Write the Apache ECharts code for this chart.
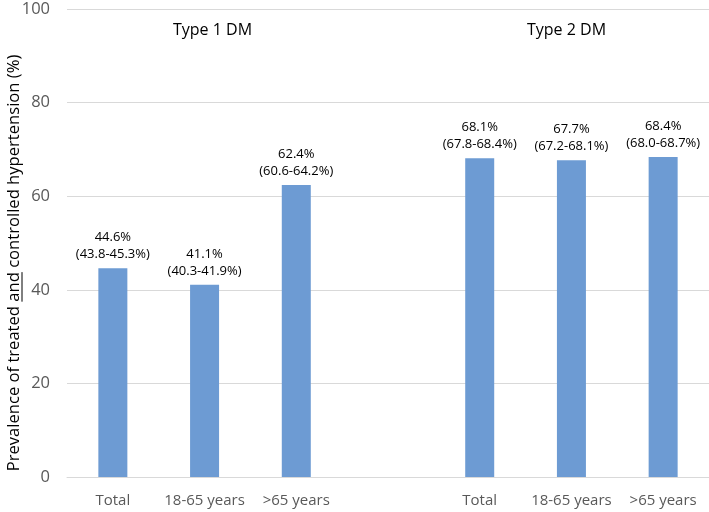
<!DOCTYPE html>
<html>
<head>
<meta charset="utf-8">
<script src="https://cdn.jsdelivr.net/npm/echarts@6/dist/echarts.min.js"></script>
<style>
html,body{margin:0;padding:0;background:#fff;}
#c{width:709px;height:512px;}
</style>
</head>
<body>
<div id="c"></div>
<script>
var categories = ['Total', '18-65 years', '>65 years', '', 'Total', '18-65 years', '>65 years'];
var prevalence = [44.6, 41.1, 62.4, null, 68.1, 67.7, 68.4];
var ciText = ['43.8-45.3', '40.3-41.9', '60.6-64.2', '', '67.8-68.4', '67.2-68.1', '68.0-68.7'];
var groupTitles = ['Type 1 DM', 'Type 2 DM'];
var yTicks = [0, 20, 40, 60, 80, 100];
var axisTitlePre = 'Prevalence of treated ';
var axisTitleUnder = 'and';
var axisTitlePost = ' controlled hypertension (%)';

var FONT = '"Open Sans", "Noto Sans", sans-serif';
var chart = echarts.init(document.getElementById('c'), null, {renderer: 'canvas'});

var TSIZE = 16.6;
var cv = document.createElement('canvas').getContext('2d');
cv.font = TSIZE + 'px "Open Sans"';
var wPre = cv.measureText(axisTitlePre).width;
var wAnd = cv.measureText(axisTitleUnder).width;
var wAll = cv.measureText(axisTitlePre + axisTitleUnder + axisTitlePost).width;
var tcx = 14, tcy = 263;
var startY = tcy + wAll / 2;

var option = {
  animation: false,
  backgroundColor: '#ffffff',
  grid: {left: 67, right: 0, top: 9, bottom: 35, containLabel: false},
  title: [
    {text: groupTitles[0], left: 168, top: 17, textStyle: {fontFamily: FONT, fontSize: 16, fontWeight: 'normal', color: '#000'}},
    {text: groupTitles[1], left: 522, top: 17, textStyle: {fontFamily: FONT, fontSize: 16, fontWeight: 'normal', color: '#000'}}
  ],
  xAxis: {
    type: 'category',
    data: categories,
    axisLine: {show: true, lineStyle: {color: '#d9d9d9', width: 1}},
    axisTick: {show: false},
    axisLabel: {fontFamily: FONT, fontSize: 15, color: '#595959', margin: 16, interval: 0}
  },
  yAxis: {
    type: 'value',
    min: 0, max: 100, interval: 20,
    axisLine: {show: false},
    axisTick: {show: false},
    axisLabel: {fontFamily: FONT, fontSize: 16.5, color: '#595959', margin: 17,
      formatter: function (v) { return yTicks.indexOf(v) >= 0 ? String(v) : ''; }},
    splitLine: {lineStyle: {color: '#d9d9d9', width: 1}}
  },
  series: [{
    type: 'bar',
    data: prevalence,
    barWidth: 29,
    itemStyle: {color: '#6d9bd3'},
    label: {
      show: true,
      position: 'top',
      distance: 5,
      fontFamily: FONT,
      fontSize: 13,
      color: '#000',
      lineHeight: 17,
      formatter: function (p) {
        if (p.value == null) return '';
        return p.value.toFixed(1) + '%\n(' + ciText[p.dataIndex] + '%)';
      }
    }
  }],
  graphic: [
    {
      type: 'text',
      x: tcx, y: tcy,
      rotation: Math.PI / 2,
      style: {
        text: axisTitlePre + axisTitleUnder + axisTitlePost,
        font: TSIZE + 'px ' + FONT,
        fill: '#000',
        align: 'center',
        verticalAlign: 'middle'
      }
    },
    {
      type: 'line',
      shape: {x1: 22, y1: startY - wPre, x2: 22, y2: startY - wPre - wAnd},
      style: {stroke: '#000', lineWidth: 1}
    }
  ]
};
chart.setOption(option);
</script>
</body>
</html>
